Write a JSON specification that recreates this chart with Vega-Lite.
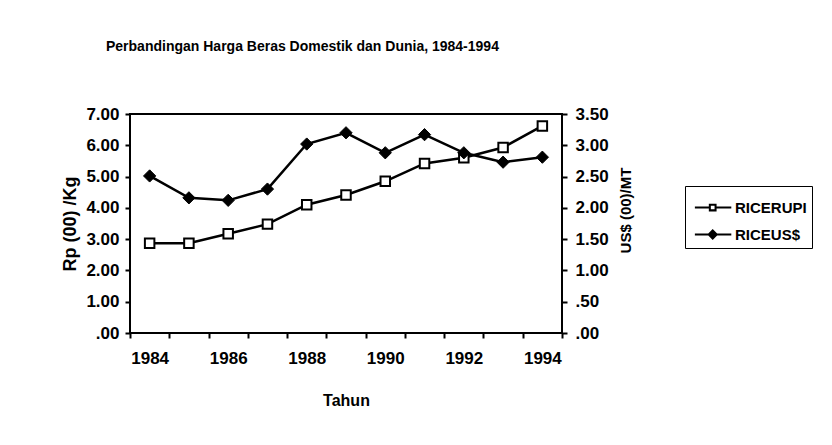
{
  "$schema": "https://vega.github.io/schema/vega-lite/v6.json",
  "width": 432,
  "height": 219,
  "autosize": {"type": "none"},
  "padding": {"left": 130, "top": 114, "right": 270, "bottom": 112},
  "background": "white",
  "config": {
    "view": {"stroke": "black", "strokeWidth": 2},
    "font": "Liberation Sans",
    "axis": {
      "domain": false,
      "grid": false,
      "tickColor": "black",
      "tickWidth": 2,
      "tickSize": 5,
      "labelColor": "black",
      "labelFont": "Liberation Sans",
      "labelFontWeight": "bold",
      "labelFontSize": 17,
      "titleColor": "black",
      "titleFont": "Liberation Sans",
      "titleFontWeight": "bold",
      "titleFontSize": 16
    }
  },
  "title": {
    "text": "Perbandingan Harga Beras Domestik dan Dunia, 1984-1994",
    "font": "Liberation Sans",
    "fontSize": 14,
    "fontWeight": "bold",
    "color": "black",
    "anchor": "start",
    "frame": "group",
    "dx": -24,
    "offset": 51
  },
  "data": {
    "values": [
      {"year": 1984, "series": "RICERUPI", "value": 2.87},
      {"year": 1985, "series": "RICERUPI", "value": 2.87},
      {"year": 1986, "series": "RICERUPI", "value": 3.17},
      {"year": 1987, "series": "RICERUPI", "value": 3.48},
      {"year": 1988, "series": "RICERUPI", "value": 4.10},
      {"year": 1989, "series": "RICERUPI", "value": 4.41},
      {"year": 1990, "series": "RICERUPI", "value": 4.85},
      {"year": 1991, "series": "RICERUPI", "value": 5.42},
      {"year": 1992, "series": "RICERUPI", "value": 5.60},
      {"year": 1993, "series": "RICERUPI", "value": 5.93},
      {"year": 1994, "series": "RICERUPI", "value": 6.62},
      {"year": 1984, "series": "RICEUS$", "value": 2.51},
      {"year": 1985, "series": "RICEUS$", "value": 2.16},
      {"year": 1986, "series": "RICEUS$", "value": 2.12},
      {"year": 1987, "series": "RICEUS$", "value": 2.30},
      {"year": 1988, "series": "RICEUS$", "value": 3.02},
      {"year": 1989, "series": "RICEUS$", "value": 3.20},
      {"year": 1990, "series": "RICEUS$", "value": 2.88},
      {"year": 1991, "series": "RICEUS$", "value": 3.17},
      {"year": 1992, "series": "RICEUS$", "value": 2.88},
      {"year": 1993, "series": "RICEUS$", "value": 2.73},
      {"year": 1994, "series": "RICEUS$", "value": 2.81}
    ]
  },
  "encoding": {
    "x": {
      "field": "year",
      "type": "ordinal",
      "bandPosition": 0.5,
      "scale": {"type": "band", "paddingInner": 0, "paddingOuter": 0},
      "axis": {
        "title": "Tahun",
        "labelAngle": 0,
        "labelFontSize": 17,
        "tickBand": "extent",
        "labelPadding": 12,
        "titlePadding": 26,
        "labelExpr": "datum.value % 2 == 0 ? datum.label : ''"
      }
    }
  },
  "layer": [
    {
      "transform": [{"filter": "datum.series == 'RICERUPI'"}],
      "encoding": {
        "y": {
          "field": "value",
          "type": "quantitative",
          "scale": {"domain": [0, 7], "nice": false},
          "axis": {
            "title": "Rp (00) /Kg",
            "titleFontSize": 18,
            "values": [0, 1, 2, 3, 4, 5, 6, 7],
            "labelPadding": 6,
            "titlePadding": 6,
            "labelExpr": "datum.value == 0 ? '.00' : format(datum.value, '.2f')"
          }
        }
      },
      "layer": [
        {"mark": {"type": "line", "color": "black", "strokeWidth": 2.5}},
        {"mark": {"type": "point", "shape": "square", "fill": "white", "stroke": "black", "strokeWidth": 2, "size": 90, "opacity": 1, "filled": true}},
        {
          "mark": {"type": "point", "color": "black", "opacity": 0, "filled": true},
          "encoding": {
            "shape": {
              "field": "series",
              "type": "nominal",
              "scale": {
                "domain": ["RICERUPI", "RICEUS$"],
                "range": [
                  "M-0.75,-0.065H0.15V0.065H-0.75ZM0.65,-0.065H1.6V0.065H0.65ZM0.15,-0.25H0.65V0.25H0.15ZM0.28,-0.12V0.12H0.52V-0.12Z",
                  "M-0.75,-0.065H1.6V0.065H-0.75ZM0.4,-0.35L0.75,0L0.4,0.35L0.05,0Z"
                ]
              },
              "legend": {
                "orient": "none",
                "legendX": 555,
                "legendY": 72,
                "title": null,
                "padding": 5,
                "strokeColor": "black",
                "rowPadding": 2,
                "symbolSize": 961,
                "symbolOpacity": 1,
                "symbolFillColor": "black",
                "labelFont": "Liberation Sans",
                "labelFontWeight": "bold",
                "labelFontSize": 15,
                "labelColor": "black",
                "labelOffset": 12
              }
            }
          }
        }
      ]
    },
    {
      "transform": [{"filter": "datum.series == 'RICEUS$'"}],
      "encoding": {
        "y": {
          "field": "value",
          "type": "quantitative",
          "scale": {"domain": [0, 3.5], "nice": false},
          "axis": {
            "orient": "right",
            "title": "US$ (00)/MT",
            "titleFontSize": 15,
            "titleAngle": 270,
            "titleBaseline": "top",
            "titleY": 96,
            "values": [0, 0.5, 1, 1.5, 2, 2.5, 3, 3.5],
            "labelPadding": 8,
            "titlePadding": 10,
            "labelExpr": "datum.value < 1 ? replace(format(datum.value, '.2f'), '0.', '.') : format(datum.value, '.2f')"
          }
        }
      },
      "layer": [
        {"mark": {"type": "line", "color": "black", "strokeWidth": 2.5}},
        {"mark": {"type": "point", "shape": "diamond", "fill": "black", "stroke": "black", "strokeWidth": 1, "size": 150, "opacity": 1, "filled": true}}
      ]
    }
  ],
  "resolve": {"scale": {"y": "independent"}}
}
